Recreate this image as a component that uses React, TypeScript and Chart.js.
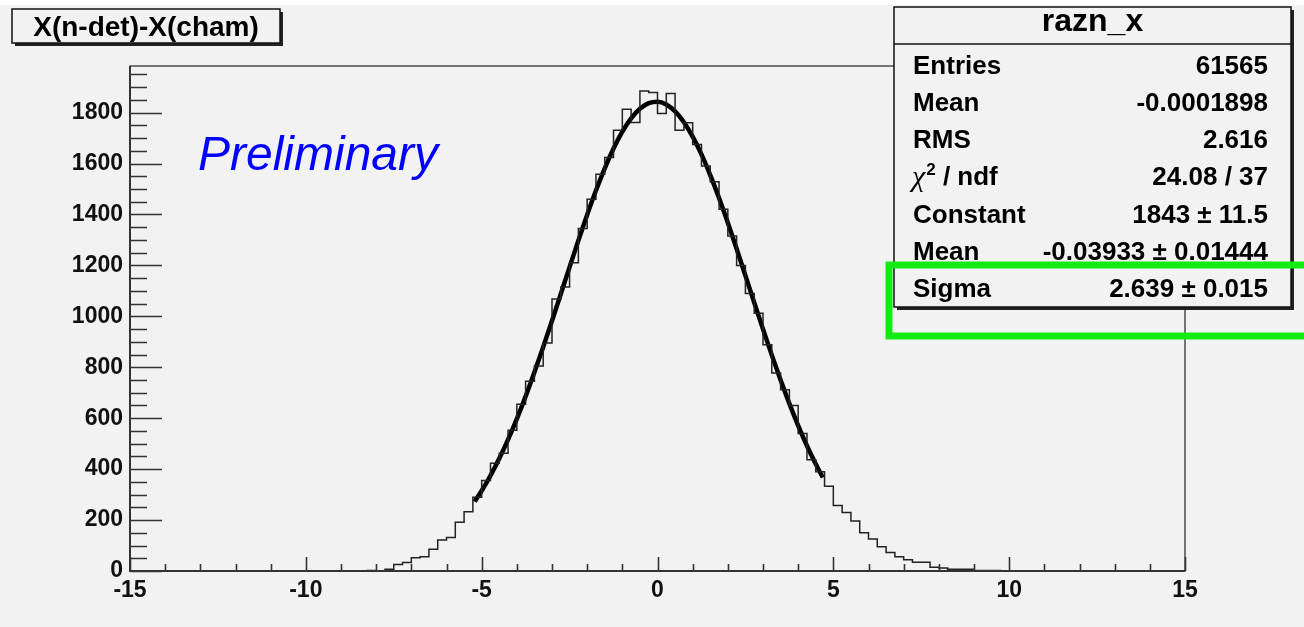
import React, { useEffect, useRef } from 'react';
import { Chart, registerables } from 'chart.js';

Chart.register(...registerables);

// ---------- data ----------
const X_MIN = -15;
const X_MAX = 15;
const Y_MAX = 1979;
const BIN_WIDTH = 0.25;
const FIRST_BIN_LOW = -8.25;
// bin contents from -8.25 to 9.75 (0.25 wide bins)
const COUNTS = [
  2, 1, 7, 26, 33, 52, 56, 85, 122, 132, 191, 233, 290, 355, 423, 462, 553, 655, 745, 805,
  895, 1068, 1115, 1210, 1345, 1460, 1558, 1624, 1731, 1813, 1761, 1885, 1879, 1796, 1875, 1731,
  1760, 1675, 1590, 1528, 1420, 1315, 1200, 1090, 1012, 888, 777, 712, 650, 540, 437, 390, 333,
  257, 230, 196, 150, 126, 95, 73, 56, 44, 34, 34, 15, 12, 7, 7, 7, 2, 2, 2,
];
// gaussian fit curve samples
const FIT_X = [
  -5.2, -5.0, -4.75, -4.5, -4.25, -4.0, -3.75, -3.5, -3.25, -3.0, -2.75, -2.5, -2.25, -2.0,
  -1.75, -1.5, -1.25, -1.0, -0.75, -0.5, -0.25, 0, 0.25, 0.5, 0.75, 1.0, 1.25, 1.5, 1.75, 2.0,
  2.25, 2.5, 2.75, 3.0, 3.25, 3.5, 3.75, 4.0, 4.25, 4.5, 4.7,
];
const FIT_Y = [
  272.3, 315.0, 374.7, 441.7, 516.1, 597.6, 685.8, 780.0, 879.2, 982.3, 1087.6, 1193.3, 1297.6,
  1398.5, 1493.8, 1581.3, 1658.9, 1724.9, 1777.4, 1815.1, 1837.1, 1842.8, 1832.0, 1804.9, 1762.4,
  1705.5, 1635.7, 1554.7, 1464.6, 1367.3, 1265.1, 1160.0, 1054.3, 949.6, 847.6, 749.8, 657.3,
  571.2, 491.9, 419.8, 367.4,
];
const X_TICKS = [-15, -10, -5, 0, 5, 10, 15];
const Y_TICKS = [0, 200, 400, 600, 800, 1000, 1200, 1400, 1600, 1800];
const X_MINOR_STEP = 1;
const Y_MINOR_STEP = 50;

const TITLE = 'X(n-det)-X(cham)';
const STATS_TITLE = 'razn_x';
const STATS_LABELS = ['Entries', 'Mean', 'RMS', 'CHI2', 'Constant', 'Mean', 'Sigma'];
const STATS_VALUES = ['61565', '-0.0001898', '2.616', '24.08 / 37', '1843 ± 11.5', '-0.03933 ± 0.01444', '2.639 ± 0.015'];
const WATERMARK = 'Preliminary';

const FONT = '"Liberation Sans", Arial, Helvetica, sans-serif';
const BG = '#f2f2f2';

function drawShadowBox(ctx: CanvasRenderingContext2D, x: number, y: number, w: number, h: number) {
  ctx.fillStyle = '#222';
  ctx.fillRect(x + 3, y + 3, w, h);
  ctx.fillStyle = BG;
  ctx.fillRect(x, y, w, h);
  ctx.strokeStyle = '#111';
  ctx.lineWidth = 1.5;
  ctx.strokeRect(x, y, w, h);
}

const decoPlugin = {
  id: 'rootDeco',
  beforeDraw(chart: any) {
    const ctx = chart.ctx as CanvasRenderingContext2D;
    ctx.save();
    ctx.fillStyle = BG;
    ctx.fillRect(0, 0, chart.width, chart.height);
    ctx.fillStyle = '#ffffff';
    ctx.fillRect(0, 0, chart.width, 5);
    ctx.restore();
  },
  afterDraw(chart: any) {
    const ctx = chart.ctx as CanvasRenderingContext2D;
    const { left, right, top, bottom } = chart.chartArea;
    const xs = chart.scales.x;
    const ys = chart.scales.y;
    ctx.save();
    // frame
    ctx.strokeStyle = '#222';
    ctx.lineWidth = 1.2;
    ctx.strokeRect(left, top - 1, right - left, bottom - top + 1);
    // axes
    ctx.lineWidth = 2;
    ctx.strokeStyle = '#333';
    ctx.beginPath();
    ctx.moveTo(left, top - 1);
    ctx.lineTo(left, bottom);
    ctx.lineTo(right, bottom);
    ctx.stroke();
    // y ticks (inside)
    ctx.lineWidth = 1.6;
    ctx.beginPath();
    for (let v = 0; v <= Y_MAX; v += Y_MINOR_STEP) {
      const py = Math.round(ys.getPixelForValue(v)) + 0.5;
      const len = Y_TICKS.includes(v) ? 32 : 17;
      ctx.moveTo(left, py);
      ctx.lineTo(left + len, py);
    }
    // x ticks
    for (let v = X_MIN; v <= X_MAX; v += X_MINOR_STEP) {
      const px = Math.round(xs.getPixelForValue(v)) + 0.5;
      const len = X_TICKS.includes(v) ? 14 : 7;
      ctx.moveTo(px, bottom);
      ctx.lineTo(px, bottom - len);
    }
    ctx.stroke();

    // title box
    drawShadowBox(ctx, 12, 9, 268, 34);
    ctx.fillStyle = '#000';
    ctx.font = `bold 28px ${FONT}`;
    ctx.textAlign = 'center';
    ctx.textBaseline = 'alphabetic';
    ctx.fillText(TITLE, 146, 36);

    // watermark
    ctx.fillStyle = '#0000ff';
    ctx.font = `italic 48px ${FONT}`;
    ctx.textAlign = 'left';
    ctx.fillText(WATERMARK, 198, 170);

    // stats box
    const bx = 894, by = 7, bw = 397, bh = 300;
    drawShadowBox(ctx, bx, by, bw, bh);
    ctx.strokeStyle = '#111';
    ctx.lineWidth = 1.5;
    ctx.beginPath();
    ctx.moveTo(bx, 44);
    ctx.lineTo(bx + bw, 44);
    ctx.stroke();
    ctx.fillStyle = '#000';
    ctx.font = `bold 32px ${FONT}`;
    ctx.textAlign = 'center';
    ctx.fillText(STATS_TITLE, bx + bw / 2, 31);

    const rowCenters = [65, 102, 139, 176, 214, 251, 288];
    STATS_LABELS.forEach((lab, i) => {
      const base = rowCenters[i] + 9;
      ctx.textAlign = 'left';
      if (lab === 'CHI2') {
        ctx.font = `italic 30px "Liberation Serif", "DejaVu Serif", serif`;
        ctx.fillText('χ', 912, base + 1);
        const w1 = ctx.measureText('χ').width;
        ctx.font = `bold 17px ${FONT}`;
        ctx.fillText('2', 912 + w1 + 1, base - 10);
        const w2 = ctx.measureText('2').width;
        ctx.font = `bold 26px ${FONT}`;
        ctx.fillText(' / ndf', 912 + w1 + w2 + 1, base);
      } else {
        ctx.font = `bold 26px ${FONT}`;
        ctx.fillText(lab, 913, base);
      }
      ctx.font = `bold 26px ${FONT}`;
      ctx.textAlign = 'right';
      ctx.fillText(STATS_VALUES[i], 1268, base);
    });

    // green highlight
    ctx.strokeStyle = '#14ea14';
    ctx.lineWidth = 7;
    ctx.beginPath();
    ctx.moveTo(1320, 265);
    ctx.lineTo(889, 265);
    ctx.lineTo(889, 336);
    ctx.lineTo(1320, 336);
    ctx.stroke();
    ctx.restore();
  },
};

export default function App() {
  const ref = useRef<HTMLCanvasElement>(null);
  useEffect(() => {
    const canvas = ref.current;
    if (!canvas) return;
    const histPoints: { x: number; y: number }[] = [{ x: X_MIN, y: 0 }];
    COUNTS.forEach((c, i) => histPoints.push({ x: FIRST_BIN_LOW + i * BIN_WIDTH, y: c }));
    histPoints.push({ x: FIRST_BIN_LOW + COUNTS.length * BIN_WIDTH, y: 0 });
    histPoints.push({ x: X_MAX, y: 0 });
    const fitPoints = FIT_X.map((x, i) => ({ x, y: FIT_Y[i] }));

    const tickFont = { family: FONT, size: 23, weight: 'bold' as const };
    const chart = new Chart(canvas, {
      type: 'line',
      data: {
        datasets: [
          {
            data: histPoints,
            stepped: 'before',
            borderColor: '#222',
            borderWidth: 1.5,
            pointRadius: 0,
            fill: false,
          },
          {
            data: fitPoints,
            borderColor: '#000',
            borderWidth: 4.5,
            pointRadius: 0,
            fill: false,
            cubicInterpolationMode: 'monotone',
          },
        ],
      },
      options: {
        responsive: false,
        animation: false,
        devicePixelRatio: 1,
        events: [],
        layout: { padding: { top: 67, right: 119, left: 0, bottom: 0 } },
        plugins: { legend: { display: false }, tooltip: { enabled: false }, title: { display: false } },
        scales: {
          x: {
            type: 'linear',
            min: X_MIN,
            max: X_MAX,
            grid: { display: false, drawTicks: false },
            border: { display: false },
            afterBuildTicks: (s: any) => {
              s.ticks = X_TICKS.map((v) => ({ value: v }));
            },
            ticks: {
              autoSkip: false,
              maxRotation: 0,
              color: '#111',
              font: tickFont,
              padding: 6,
              callback: (v: any) => String(v),
            },
            afterFit: (s: any) => {
              s.height = 56;
            },
          },
          y: {
            type: 'linear',
            min: 0,
            max: Y_MAX,
            grid: { display: false, drawTicks: false },
            border: { display: false },
            afterBuildTicks: (s: any) => {
              s.ticks = Y_TICKS.map((v) => ({ value: v }));
            },
            ticks: {
              autoSkip: false,
              color: '#111',
              font: tickFont,
              padding: 7,
              callback: (v: any) => String(v),
            },
            afterFit: (s: any) => {
              s.width = 130;
            },
          },
        },
      } as any,
      plugins: [decoPlugin],
    });
    return () => chart.destroy();
  }, []);
  return (
    <div style={{ position: 'fixed', left: 0, top: 0, width: 1304, height: 627, background: BG }}>
      <canvas ref={ref} width={1304} height={627} style={{ display: 'block', width: 1304, height: 627 }} />
    </div>
  );
}
